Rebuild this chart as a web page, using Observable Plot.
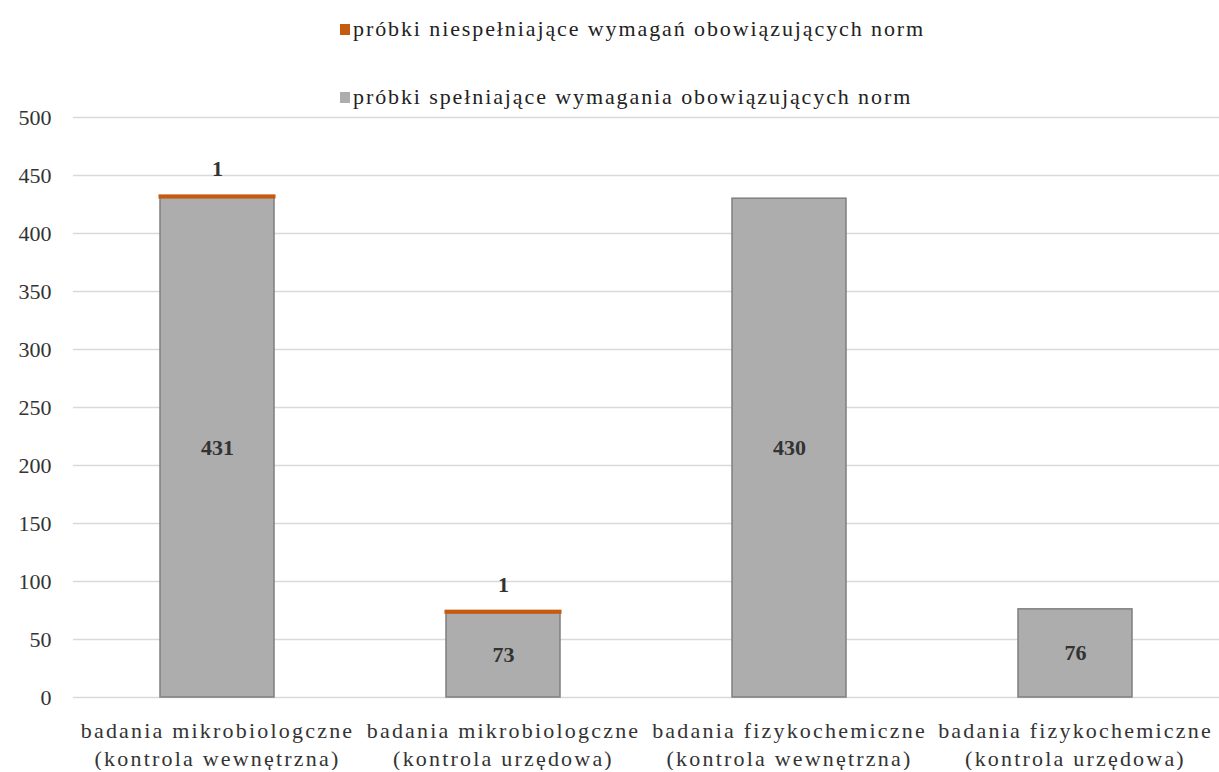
<!DOCTYPE html>
<html><head><meta charset="utf-8">
<style>
body{margin:0;background:#fff;font-family:'Liberation Serif','Times New Roman',serif;overflow:hidden;}
#legend{height:105px;position:relative;}
.li{position:absolute;left:340px;font-size:22px;letter-spacing:1.9px;color:#222;display:flex;align-items:center;white-space:nowrap;}
.sw{width:10px;height:11px;margin-right:3px;display:inline-block;}
</style>
<script src="https://cdn.jsdelivr.net/npm/d3@7"></script>
<script src="https://cdn.jsdelivr.net/npm/@observablehq/plot@0.6"></script>
</head>
<body>
<div id="legend"></div>
<div id="chart"></div>
<script>
const categories = [
  "badania mikrobiologczne\n(kontrola wewnętrzna)",
  "badania mikrobiologczne\n(kontrola urzędowa)",
  "badania fizykochemiczne\n(kontrola wewnętrzna)",
  "badania fizykochemiczne\n(kontrola urzędowa)"
];
const seriesNames = [
  "próbki spełniające wymagania obowiązujących norm",
  "próbki niespełniające wymagań obowiązujących norm"
];
const compliant = [431, 73, 430, 76];
const nonCompliant = [1, 1, 0, 0];
const yTicks = [0, 50, 100, 150, 200, 250, 300, 350, 400, 450, 500];
const colors = ["#adadad", "#c55a11"];
const FONT = "'Liberation Serif','Times New Roman',serif";

const legendItems = [[seriesNames[1], colors[1], 16], [seriesNames[0], colors[0], 84]];
const leg = document.getElementById("legend");
for (const [name, c, top] of legendItems) {
  const d = document.createElement("div");
  d.className = "li"; d.style.top = top + "px";
  d.innerHTML = `<span class="sw" style="background:${c}"></span>${name}`;
  leg.appendChild(d);
}

const data = [];
categories.forEach((c, i) => {
  data.push({cat: c, series: seriesNames[0], value: compliant[i], order: 0});
  data.push({cat: c, series: seriesNames[1], value: nonCompliant[i], order: 1});
});
const topLabels = categories.map((c, i) => ({cat: c, total: compliant[i] + nonCompliant[i], v: nonCompliant[i]})).filter(d => d.v > 0);
const midLabels = categories.map((c, i) => ({cat: c, y: compliant[i] / 2, v: compliant[i]}));

const chart = Plot.plot({
  width: 1219,
  height: 665,
  marginTop: 12,
  marginBottom: 73,
  marginLeft: 73,
  marginRight: 0,
  style: {fontFamily: FONT, fontSize: "22px", color: "#333", background: "#fff"},
  x: {domain: categories, paddingInner: 0.6, paddingOuter: 0.3, label: null},
  y: {domain: [0, 500], label: null},
  marks: [
    Plot.gridY(yTicks, {stroke: "#d9d9d9", strokeOpacity: 1, strokeWidth: 1.3}),
    Plot.axisY(yTicks, {tickSize: 0, tickPadding: 22, fontSize: 22, fill: "#333"}),
    Plot.axisX({tickSize: 0, tickPadding: 20, fontSize: 22, lineHeight: 1.3, fill: "#333", className: "xlab"}),
    Plot.barY(data.filter(d => d.order === 0), {x: "cat", y: "value", fill: colors[0], stroke: "#7f7f7f", strokeWidth: 1.5}),
    Plot.barY(data.filter(d => d.order === 1 && d.value > 0), {x: "cat", y1: d => compliant[categories.indexOf(d.cat)], y2: d => compliant[categories.indexOf(d.cat)] + d.value, fill: colors[1], stroke: colors[1], strokeWidth: 3}),
    Plot.text(midLabels, {x: "cat", y: "y", text: d => String(d.v), fontWeight: "bold", fontSize: 22, fill: "#333"}),
    Plot.text(topLabels, {x: "cat", y: "total", text: d => String(d.v), dy: -27, fontWeight: "bold", fontSize: 22, fill: "#333"})
  ]
});
chart.querySelectorAll(".xlab text").forEach(t => { t.style.letterSpacing = "2.2px"; });
document.getElementById("chart").appendChild(chart);
</script>
</body></html>
